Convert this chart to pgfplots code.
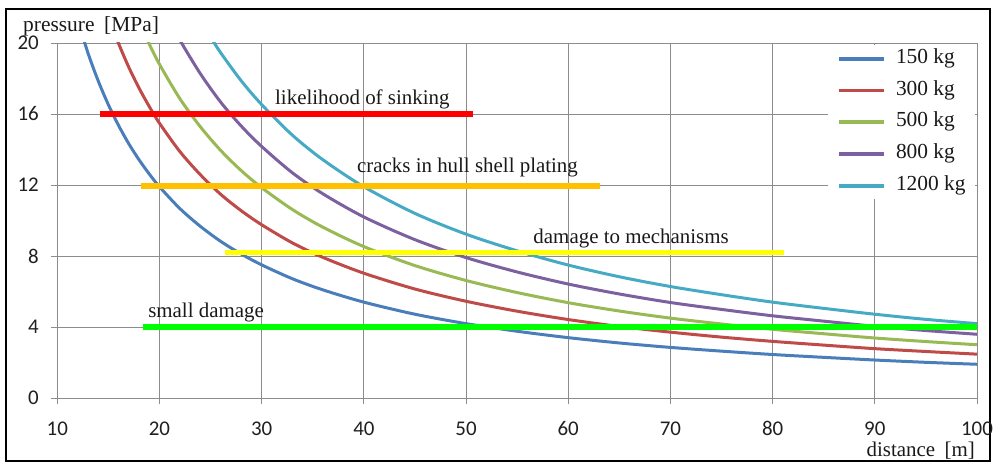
\documentclass[border=0pt]{standalone}
\usepackage{fontspec}
\setmainfont{Liberation Serif}
\newfontfamily\carlito{Carlito}
\usepackage{pgfplots}
\pgfplotsset{compat=1.18}
\definecolor{cBlue}{RGB}{74,126,187}
\definecolor{cRed}{RGB}{190,75,72}
\definecolor{cGreen}{RGB}{152,185,84}
\definecolor{cPurple}{RGB}{125,96,160}
\definecolor{cCyan}{RGB}{70,170,197}
\definecolor{tRed}{RGB}{255,0,0}
\definecolor{tOrange}{RGB}{255,192,0}
\definecolor{tYellow}{RGB}{255,255,0}
\definecolor{tGreen}{RGB}{0,255,0}
\definecolor{gridgray}{RGB}{140,140,140}
\begin{document}
\begin{tikzpicture}
\useasboundingbox (0,0) rectangle (996bp,466bp);
\draw[black, line width=2.5bp] (6bp,5bp) rectangle (990bp,457bp);
\begin{axis}[
  at={(57.3bp,68bp)}, anchor=south west,
  scale only axis, width=919.7bp, height=355bp,
  xmin=10, xmax=100, ymin=0, ymax=20,
  xtick={10,20,...,100}, ytick={0,4,...,20},
  grid=major, major grid style={draw=gridgray, line width=0.8bp},
  axis line style={draw=gridgray, line width=0.8bp},
  tick style={draw=gridgray, line width=0.8bp},
  tick align=outside, major tick length=6bp, tick pos=left,
  /pgf/number format/assume math mode=true,
  ticklabel style={font=\carlito\fontsize{21}{25}\selectfont, text=black!88},
  xticklabel style={yshift=-14bp},
  yticklabel style={xshift=-9bp},
  xlabel={distance\hspace{0.45em}[m]},
  ylabel={pressure\hspace{0.45em}[MPa]},
  xlabel style={at={(axis description cs:0.9978,-0.166)}, anchor=base east, font=\fontsize{21}{25}\selectfont, text=black!90, inner sep=0pt},
  ylabel style={at={(axis description cs:-0.0373,1.032)}, anchor=base west, rotate=-90, font=\fontsize{21.5}{25}\selectfont, text=black!90, inner sep=0pt},
  legend cell align=left,
  legend image code/.code={\draw[#1, line width=3.8bp] (0bp,0bp) -- (45bp,0bp);},
  legend style={at={(0.838,0.994)}, anchor=north west, draw=none, fill=white,
    font=\fontsize{21.5}{25}\selectfont, text=black!90,
    inner xsep=9bp, inner ysep=4bp, column sep=10bp, row sep=12.75bp,
    nodes={inner sep=0bp, text height=14bp, text depth=5bp}},
  clip=true,
]
\addplot[cBlue, line width=3bp, smooth] coordinates {
(12,21.30) (13,19.44) (14,17.87) (15,16.52) (16,15.35) (17,14.32) (18,13.42) (19,12.62)
(20,11.90) (22,10.67) (24,9.67) (26,8.82) (28,8.11) (30,7.50) (33,6.72) (36,6.09)
(40,5.40) (45,4.72) (50,4.19) (55,3.76) (60,3.40) (65,3.10) (70,2.85) (75,2.64)
(80,2.45) (85,2.29) (90,2.14) (95,2.01) (100,1.90)};
\addlegendentry{150 kg}
\addplot[cRed, line width=3bp, smooth] coordinates {
(15,21.49) (16,19.97) (17,18.63) (18,17.46) (19,16.42) (20,15.48) (22,13.88) (24,12.58)
(26,11.47) (28,10.55) (30,9.76) (33,8.74) (36,7.92) (40,7.03) (45,6.14) (50,5.45)
(55,4.89) (60,4.42) (65,4.03) (70,3.71) (75,3.43) (80,3.19) (85,2.98) (90,2.78)
(95,2.62) (100,2.47)};
\addlegendentry{300 kg}
\addplot[cGreen, line width=3bp, smooth] coordinates {
(18,21.20) (19,19.94) (20,18.80) (22,16.86) (24,15.28) (26,13.94) (28,12.81) (30,11.85)
(33,10.62) (36,9.62) (40,8.53) (45,7.46) (50,6.62) (55,5.94) (60,5.37) (65,4.90)
(70,4.50) (75,4.17) (80,3.87) (85,3.62) (90,3.38) (95,3.18) (100,3.00)};
\addlegendentry{500 kg}
\addplot[cPurple, line width=3bp, smooth] coordinates {
(20,22.48) (21,21.26) (22,20.16) (24,18.27) (26,16.66) (28,15.32) (30,14.17) (33,12.69)
(36,11.50) (40,10.20) (45,8.92) (50,7.91) (55,7.10) (60,6.42) (65,5.86) (70,5.38)
(75,4.99) (80,4.63) (85,4.33) (90,4.04) (95,3.80) (100,3.59)};
\addlegendentry{800 kg}
\addplot[cCyan, line width=3bp, smooth] coordinates {
(24,21.31) (25,20.34) (26,19.44) (28,17.87) (30,16.53) (33,14.81) (36,13.42) (40,11.90)
(45,10.40) (50,9.23) (55,8.29) (60,7.49) (65,6.83) (70,6.28) (75,5.82) (80,5.40)
(85,5.05) (90,4.72) (95,4.43) (100,4.19)};
\addlegendentry{1200 kg}
\addplot[forget plot, tRed, line width=6.5bp] coordinates {(14.2,16) (50.7,16)};
\addplot[forget plot, tOrange, line width=5.5bp] coordinates {(18.2,11.95) (63.1,11.95)};
\addplot[forget plot, tYellow, line width=5bp] coordinates {(26.4,8.17) (81.1,8.17)};
\addplot[forget plot, tGreen, line width=6bp] coordinates {(18.4,4.0) (100,4.0)};
\node[anchor=base, font=\fontsize{21}{25}\selectfont, text=black!90, inner sep=0pt] at (axis cs:39.85,16.56) {likelihood of sinking};
\node[anchor=base, font=\fontsize{21}{25}\selectfont, text=black!90, inner sep=0pt] at (axis cs:50.14,12.73) {cracks in hull shell plating};
\node[anchor=base, font=\fontsize{21}{25}\selectfont, text=black!90, inner sep=0pt] at (axis cs:66.15,8.73) {damage to mechanisms};
\node[anchor=base, font=\fontsize{21}{25}\selectfont, text=black!90, inner sep=0pt] at (axis cs:24.56,4.56) {small damage};
\end{axis}
\end{tikzpicture}
\end{document}
